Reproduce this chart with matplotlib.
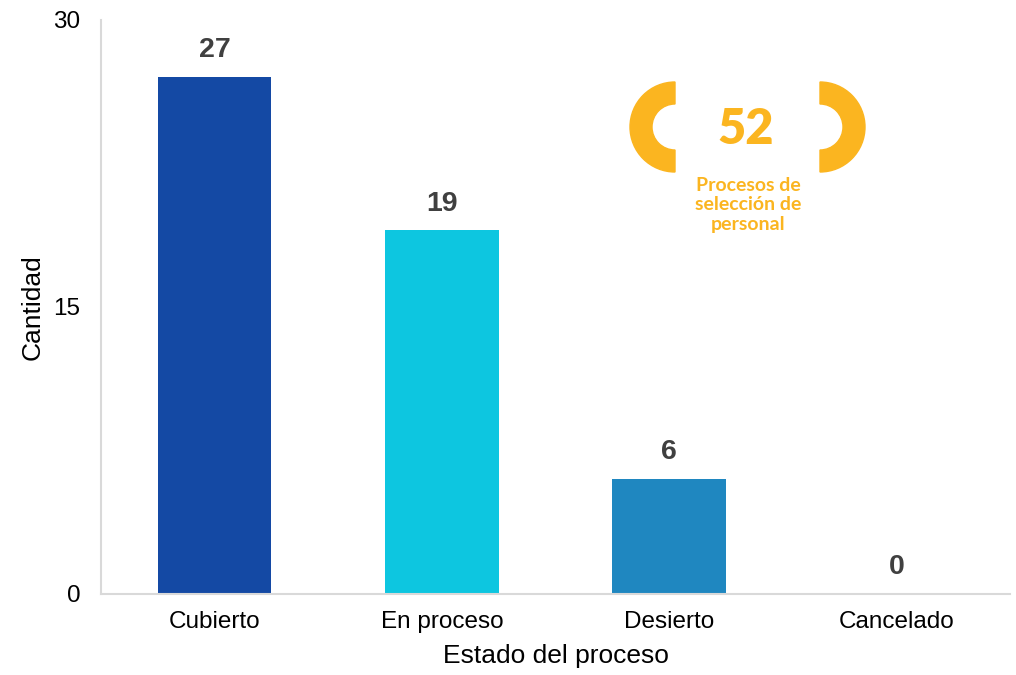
"""Bar chart: estado de los procesos de selección de personal."""

import matplotlib

matplotlib.use("Agg")
import matplotlib.pyplot as plt
from matplotlib.patches import Wedge

categories = ["Cubierto", "En proceso", "Desierto", "Cancelado"]
counts = [27, 19, 6, 0]
bar_colors = ["#1449A4", "#0DC6E0", "#1F87C0", "#8FA8C8"]
total_label = "52"
total_caption = "Procesos de\nselección de\npersonal"
y_ticks = [0, 15, 30]

gold = "#FBB520"
label_grey = "#404040"

plt.rcParams["font.family"] = ["Liberation Sans", "DejaVu Sans"]

fig = plt.figure(figsize=(10.16, 6.75), dpi=100)
ax = fig.add_axes([0.0994, 0.12, 0.8946, 0.8504])

x = list(range(len(categories)))
ax.bar(x, counts, width=0.5, color=bar_colors)
for xi, value in zip(x, counts):
    ax.annotate(
        str(value),
        (xi, value),
        xytext=(0, 10),
        textcoords="offset points",
        ha="center",
        va="bottom",
        fontsize=20.5,
        fontweight="bold",
        color=label_grey,
    )

ax.set_xlim(-0.5, 3.5)
ax.set_ylim(0, 30)
ax.set_yticks(y_ticks)
ax.set_xticks(x)
ax.set_xticklabels(categories)
ax.tick_params(axis="both", length=0, labelsize=17.5)
ax.tick_params(axis="y", pad=15)
ax.tick_params(axis="x", pad=12)
ax.set_xlabel("Estado del proceso", fontsize=19, labelpad=8)
ax.set_ylabel("Cantidad", fontsize=19, labelpad=6)

for side in ("top", "right"):
    ax.spines[side].set_visible(False)
for side in ("left", "bottom"):
    ax.spines[side].set_color("#d9d9d9")
    ax.spines[side].set_linewidth(1.5)

# badge overlay in pixel coordinates
overlay = fig.add_axes([0, 0, 1, 1], facecolor="none")
overlay.set_xlim(0, 1016)
overlay.set_ylim(675, 0)
overlay.axis("off")
overlay.add_patch(Wedge((675, 127), 45, 90, 270, width=22, color=gold))
overlay.add_patch(Wedge((820, 127), 45, -90, 90, width=22, color=gold))
overlay.text(
    746, 129, total_label, ha="center", va="center",
    fontsize=35, fontweight="heavy", color=gold, family="Lato",
)
overlay.text(
    748, 205, total_caption, ha="center", va="center",
    fontsize=14, fontweight="bold", color=gold, family="Lato",
    linespacing=1.2,
)

fig.savefig("out.png", dpi=100)
